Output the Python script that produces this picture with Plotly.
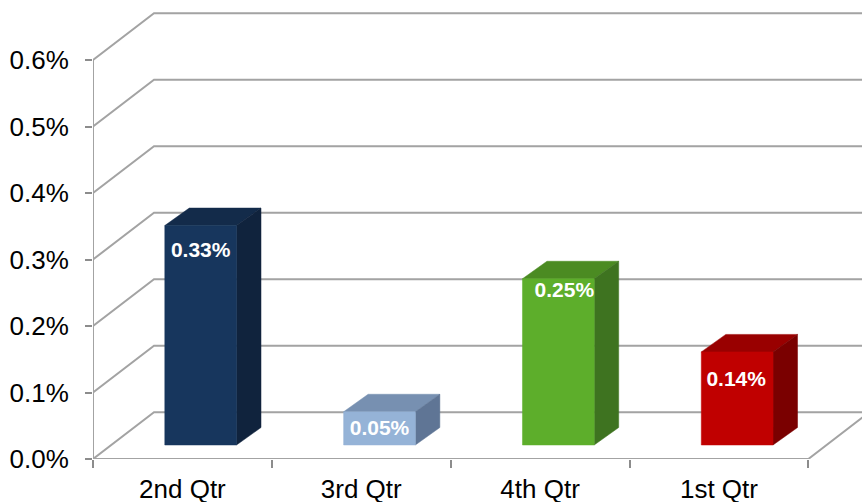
import plotly.graph_objects as go

# Quarterly rates (percent)
categories = ["2nd Qtr", "3rd Qtr", "4th Qtr", "1st Qtr"]
values = [0.33, 0.05, 0.25, 0.14]
value_labels = ["0.33%", "0.05%", "0.25%", "0.14%"]
tick_values = [0.0, 0.1, 0.2, 0.3, 0.4, 0.5, 0.6]
tick_labels = ["0.0%", "0.1%", "0.2%", "0.3%", "0.4%", "0.5%", "0.6%"]

# Face colours per bar: front, top, right side
front_colors = ["#17365D", "#95B3D7", "#5DAE2B", "#C00000"]
top_colors = ["#132B4A", "#7790B1", "#4B8B22", "#990000"]
side_colors = ["#10233D", "#5F7595", "#3E7320", "#7A0000"]

# Label nudges (pixels) relative to the top centre of each front face
label_dx_px = [0, 0, 6, -1]
label_dy_px = [-26, -18, -13, -29]

W, H = 862, 502
ML, MR, MT, MB = 93, 0, 0, 43
X0, X1 = -0.5, 3.8
PX_PER_CAT = (W - ML - MR) / (X1 - X0)
PX_PER_UNIT = 665.0               # pixels per 1.0 percent
Y1 = (H - MT - MB) / PX_PER_UNIT

def px_x(p):
    return p / PX_PER_CAT

def px_y(p):
    return p / PX_PER_UNIT

# Oblique depth vectors
WALL_DX, WALL_DY = px_x(61), px_y(46.8)      # floor / wall depth
BAR_DX, BAR_DY = px_x(24.5), px_y(17.5)      # bar depth
F0 = 0.299                                    # bar front plane (fraction of wall depth)
BAR_W = 0.401

GRID = "#A3A3A3"
fig = go.Figure()

def line(xs, ys, color=GRID, width=2):
    fig.add_trace(go.Scatter(x=xs, y=ys, mode="lines", hoverinfo="skip",
                             line=dict(color=color, width=width), showlegend=False))

def poly(xs, ys, color):
    fig.add_trace(go.Scatter(x=xs + [xs[0]], y=ys + [ys[0]], mode="lines", fill="toself",
                             fillcolor=color, line=dict(color=color, width=0.5),
                             hoverinfo="skip", showlegend=False))

right_end = X1 + 1
front_left = X0
front_right = len(categories) - 0.5

# Back-wall gridlines folded onto the left side wall
for v in tick_values[1:]:
    line([front_left, front_left + WALL_DX, right_end],
         [v, v + WALL_DY, v + WALL_DY])

# Floor outline
line([front_left, front_left + WALL_DX, right_end], [0, WALL_DY, WALL_DY])
line([front_left, front_right, front_right + WALL_DX], [0, 0, WALL_DY])
# Front vertical axis
line([front_left, front_left], [0, tick_values[-1]])

# 3D bars
for i, v in enumerate(values):
    xl = i - BAR_W / 2 + F0 * WALL_DX
    xr = i + BAR_W / 2 + F0 * WALL_DX
    yb = F0 * WALL_DY
    yt = yb + v
    poly([xl, xr, xr + BAR_DX, xl + BAR_DX], [yt, yt, yt + BAR_DY, yt + BAR_DY], top_colors[i])
    poly([xr, xr, xr + BAR_DX, xr + BAR_DX], [yb, yt, yt + BAR_DY, yb + BAR_DY], side_colors[i])
    poly([xl, xr, xr, xl], [yb, yb, yt, yt], front_colors[i])
    fig.add_trace(go.Scatter(
        x=[(xl + xr) / 2 + px_x(label_dx_px[i])],
        y=[yt + px_y(label_dy_px[i])],
        mode="text", text=[value_labels[i]], cliponaxis=False,
        textfont=dict(family="Liberation Sans, Arial, sans-serif", size=21, color="white",
                      weight="bold"),
        hoverinfo="skip", showlegend=False))

# Invisible trace for the category label axis
fig.add_trace(go.Scatter(x=[0], y=[0], xaxis="x2", mode="markers",
                         marker=dict(opacity=0), hoverinfo="skip", showlegend=False))

font = dict(family="Liberation Sans, Arial, sans-serif", size=26, color="black")
fig.update_layout(
    width=W, height=H,
    margin=dict(l=ML, r=MR, t=MT, b=MB, autoexpand=False),
    paper_bgcolor="white", plot_bgcolor="white",
    font=font,
    xaxis=dict(range=[X0, X1], showgrid=False, zeroline=False, showline=False,
               tickmode="array", tickvals=[k - 0.5 for k in range(len(categories) + 1)],
               ticks="outside", ticklen=8, tickwidth=1.5, tickcolor="#8C8C8C",
               showticklabels=False, automargin=False),
    xaxis2=dict(range=[X0, X1], overlaying="x", anchor="y", side="bottom",
                showgrid=False, zeroline=False, showline=False,
                tickmode="array", tickvals=list(range(len(categories))), ticktext=categories,
                ticks="", tickfont=font, ticklabelstandoff=12, automargin=False),
    yaxis=dict(range=[0, Y1], showgrid=False, zeroline=False, showline=False,
               tickmode="array", tickvals=tick_values, ticktext=tick_labels,
               ticks="outside", ticklen=7, tickwidth=1.5, tickcolor="#8C8C8C",
               tickfont=font, ticklabelstandoff=11, automargin=False),
)

fig.write_html("out.html")
